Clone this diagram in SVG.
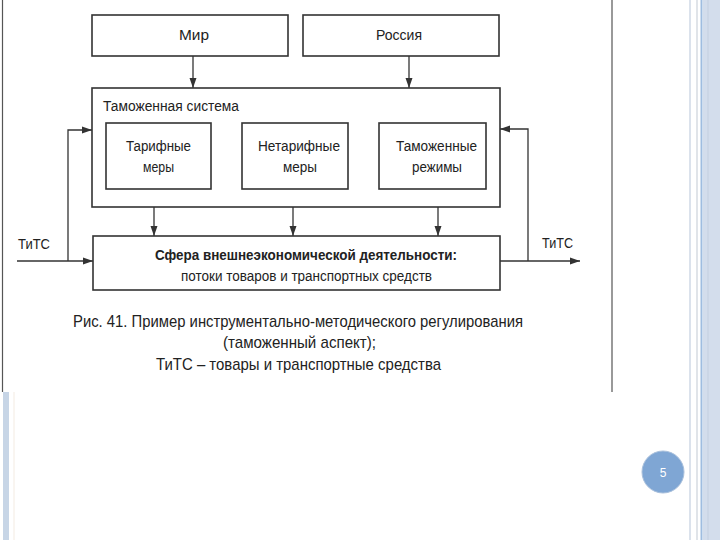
<svg xmlns="http://www.w3.org/2000/svg" width="720" height="540" viewBox="0 0 720 540">
<defs>
<marker id="ah" viewBox="0 0 10 10" refX="10" refY="5" markerWidth="10" markerHeight="10" markerUnits="userSpaceOnUse" orient="auto">
<path d="M0,1.5 L10,5 L0,8.5 Z" fill="#333"/>
</marker>
<style>
.box{fill:#fff;stroke:#333;stroke-width:1.6}
.ln{fill:none;stroke:#333;stroke-width:1.3}
.t{font-family:"Liberation Sans",Arial,sans-serif;fill:#222}
</style>
</defs>
<rect width="720" height="540" fill="#fff"/>
<!-- slide decoration -->
<rect x="703" y="0" width="17" height="540" fill="#d3ddec"/>
<line x1="708" y1="0" x2="708" y2="540" stroke="#c3cfe0" stroke-width="1"/>
<line x1="701.5" y1="0" x2="701.5" y2="540" stroke="#9fbde0" stroke-width="2"/>
<line x1="697" y1="0" x2="697" y2="540" stroke="#d6dbe2" stroke-width="1.5"/>
<line x1="690" y1="0" x2="690" y2="540" stroke="#cfd9e6" stroke-width="1.5"/>
<rect x="3" y="392" width="6" height="148" fill="#c7d5e6"/>
<line x1="14" y1="392" x2="14" y2="540" stroke="#f3ebe2" stroke-width="1"/>
<!-- picture frame -->
<line x1="2.5" y1="0" x2="2.5" y2="392" stroke="#555" stroke-width="1.2"/>
<line x1="612" y1="0" x2="612" y2="392" stroke="#555" stroke-width="1.2"/>

<g id="connectors">
<line class="ln" x1="193" y1="56" x2="193" y2="88" marker-end="url(#ah)"/>
<line class="ln" x1="409" y1="56" x2="409" y2="88" marker-end="url(#ah)"/>
<line class="ln" x1="154" y1="189" x2="154" y2="236" marker-end="url(#ah)"/>
<line class="ln" x1="293" y1="189" x2="293" y2="236" marker-end="url(#ah)"/>
<line class="ln" x1="438" y1="189" x2="438" y2="236" marker-end="url(#ah)"/>
<line class="ln" x1="17" y1="261" x2="93" y2="261" marker-end="url(#ah)"/>
<polyline class="ln" points="68,261 68,130 92,130" marker-end="url(#ah)"/>
<line class="ln" x1="500" y1="261" x2="580" y2="261" marker-end="url(#ah)"/>
<polyline class="ln" points="528,261 528,129 500,129" marker-end="url(#ah)"/>
<text class="t" x="18" y="249" font-size="15" textLength="32" lengthAdjust="spacingAndGlyphs">ТиТС</text>
<text class="t" x="542" y="248" font-size="15" textLength="31" lengthAdjust="spacingAndGlyphs">ТиТС</text>
</g>

<g id="mir">
<rect class="box" x="92" y="15" width="196" height="41"/>
<text class="t" x="179" y="40" font-size="14" textLength="30" lengthAdjust="spacingAndGlyphs">Мир</text>
</g>
<g id="rossiya">
<rect class="box" x="303" y="15" width="196" height="41"/>
<text class="t" x="376" y="40" font-size="14" textLength="46" lengthAdjust="spacingAndGlyphs">Россия</text>
</g>
<g id="tam-sistema">
<rect class="box" x="92" y="88" width="408" height="119"/>
<text class="t" x="103" y="111" font-size="14" textLength="136" lengthAdjust="spacingAndGlyphs">Таможенная система</text>
</g>
<g id="tarif">
<rect class="box" x="106" y="123" width="105" height="66"/>
<text class="t" x="126" y="151" font-size="14" textLength="65" lengthAdjust="spacingAndGlyphs">Тарифные</text>
<text class="t" x="143" y="172" font-size="14" textLength="31" lengthAdjust="spacingAndGlyphs">меры</text>
</g>
<g id="netarif">
<rect class="box" x="242" y="123" width="106" height="66"/>
<text class="t" x="258" y="151" font-size="14" textLength="82" lengthAdjust="spacingAndGlyphs">Нетарифные</text>
<text class="t" x="283" y="172" font-size="14" textLength="34" lengthAdjust="spacingAndGlyphs">меры</text>
</g>
<g id="rezhimy">
<rect class="box" x="379" y="123" width="107" height="66"/>
<text class="t" x="396" y="151" font-size="14" textLength="81" lengthAdjust="spacingAndGlyphs">Таможенные</text>
<text class="t" x="412" y="172" font-size="14" textLength="50" lengthAdjust="spacingAndGlyphs">режимы</text>
</g>
<g id="sfera">
<rect class="box" x="93" y="236" width="407" height="54"/>
<text class="t" x="155" y="260" font-size="14.5" font-weight="bold" textLength="302" lengthAdjust="spacingAndGlyphs">Сфера внешнеэкономической деятельности:</text>
<text class="t" x="181" y="281" font-size="14" textLength="251" lengthAdjust="spacingAndGlyphs">потоки товаров и транспортных средств</text>
</g>

<g id="caption">
<text class="t" x="73" y="327" font-size="17" textLength="450" lengthAdjust="spacingAndGlyphs">Рис. 41. Пример инструментально-методического регулирования</text>
<text class="t" x="223" y="348" font-size="17" textLength="153" lengthAdjust="spacingAndGlyphs">(таможенный аспект);</text>
<text class="t" x="156" y="370" font-size="17" textLength="285" lengthAdjust="spacingAndGlyphs">ТиТС – товары и транспортные средства</text>
</g>

<g id="page-number">
<circle cx="663" cy="472" r="21" fill="#7fa6d4" stroke="#a9c0dc" stroke-width="1"/>
<text x="663" y="477" font-family="Liberation Sans, Arial, sans-serif" font-size="12" fill="#fff" text-anchor="middle">5</text>
</g>
</svg>
